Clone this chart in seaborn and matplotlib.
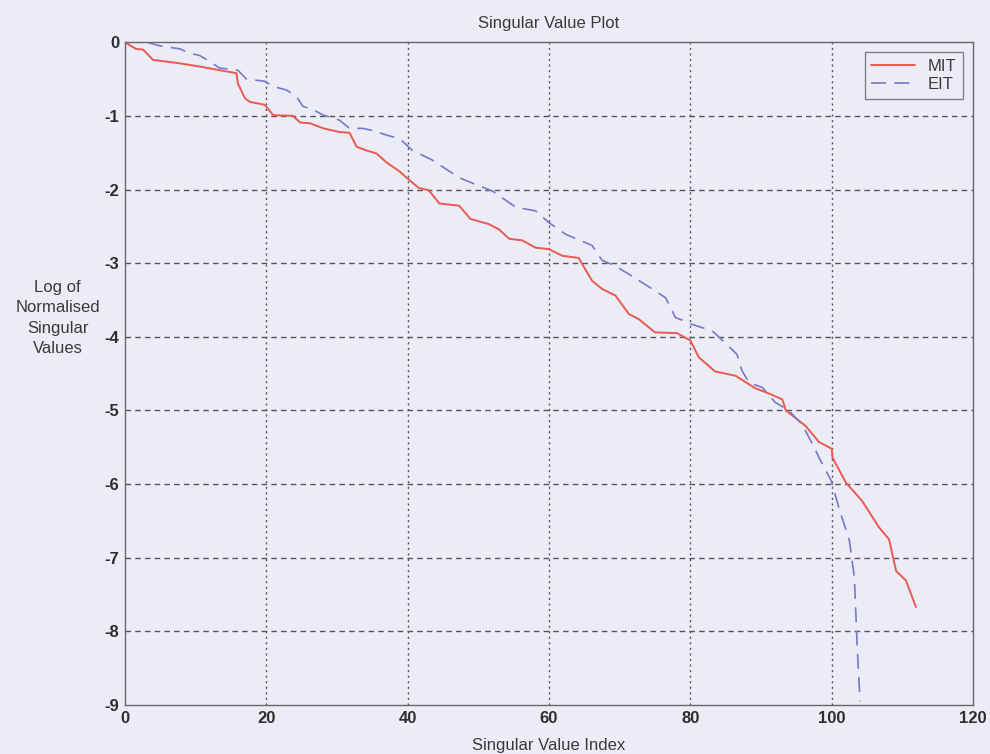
import pandas as pd
import seaborn as sns
import matplotlib
matplotlib.use("Agg")
import matplotlib.pyplot as plt

# values
mit_index = [0, 1.6, 2.6, 4.0, 7.3, 10.6, 13.4, 15.8, 16.0, 17.0, 17.7, 19.8, 21.0, 23.8, 24.8,
             26.2, 28.1, 30.4, 31.8, 32.8, 34.2, 35.6, 37.0, 38.8, 40.0, 41.6, 43.0, 44.5, 47.3, 48.9,
             51.5, 52.9, 54.4, 56.2, 58.1, 60.0, 61.9, 64.2, 66.1, 67.5, 69.4, 71.3, 72.7, 75.0, 78.1,
             80.0, 81.2, 83.5, 86.4, 89.2, 91.1, 93.0, 93.5, 96.3, 98.2, 100.0, 100.1, 102.0, 104.3,
             106.7, 108.1, 109.1, 110.5, 111.9]
mit_values = [0, -0.09, -0.10, -0.24, -0.28, -0.33, -0.38, -0.42, -0.56, -0.76, -0.81, -0.85, -0.99,
              -1.0, -1.09, -1.10, -1.17, -1.22, -1.23, -1.42, -1.47, -1.51, -1.63, -1.75, -1.85, -1.98,
              -2.01, -2.19, -2.22, -2.40, -2.47, -2.54, -2.67, -2.69, -2.79, -2.81, -2.90, -2.93, -3.24,
              -3.35, -3.44, -3.69, -3.76, -3.94, -3.95, -4.05, -4.28, -4.47, -4.53, -4.70, -4.77, -4.85,
              -5.0, -5.21, -5.43, -5.52, -5.64, -5.98, -6.23, -6.59, -6.75, -7.18, -7.31, -7.67]

eit_index = [0, 3.1, 5.0, 7.8, 9.2, 10.6, 12.0, 13.4, 16.0, 17.2, 19.8, 21.0, 22.9, 24.3, 25.2,
             26.7, 28.1, 30.4, 31.8, 33.7, 35.1, 37.0, 38.9, 40.7, 43.5, 47.3, 50.1, 52.0, 55.3, 58.1,
             60.0, 62.4, 66.1, 67.5, 69.4, 71.3, 74.6, 76.5, 77.9, 79.3, 80.2, 83.1, 84.9, 86.6, 87.3,
             88.3, 90.2, 92.0, 93.9, 95.8, 97.3, 98.4, 99.9, 101.0, 102.5, 103.2, 103.6, 104.0]
eit_values = [0, 0, -0.05, -0.09, -0.15, -0.18, -0.26, -0.35, -0.38, -0.50, -0.53, -0.60, -0.65,
              -0.74, -0.87, -0.92, -0.99, -1.06, -1.17, -1.17, -1.20, -1.26, -1.31, -1.47, -1.60,
              -1.84, -1.95, -2.02, -2.24, -2.29, -2.45, -2.61, -2.76, -2.96, -3.04, -3.15, -3.35,
              -3.47, -3.74, -3.79, -3.83, -3.92, -4.08, -4.24, -4.46, -4.62, -4.69, -4.89, -5.0,
              -5.19, -5.46, -5.68, -5.95, -6.32, -6.77, -7.27, -8.22, -8.95]

x_ticks = [0, 20, 40, 60, 80, 100, 120]
y_ticks = [0, -1, -2, -3, -4, -5, -6, -7, -8, -9]

bg = "#ececf6"
ink = "#3a3a3a"

sns.set_style("white")
plt.rcParams['font.family'] = ['Liberation Sans', 'DejaVu Sans']
plt.rcParams['axes.unicode_minus'] = False

fig = plt.figure(figsize=(9.9, 7.54), dpi=100, facecolor=bg)
ax = fig.add_axes([0.126, 0.065, 0.857, 0.879])
ax.set_facecolor(bg)

sns.lineplot(x=mit_index, y=mit_values, ax=ax, color="#ea5a50", lw=1.4, label="MIT",
             estimator=None, sort=False)
sns.lineplot(x=eit_index, y=eit_values, ax=ax, color="#7878cc", lw=1.2, label="EIT",
             estimator=None, sort=False, dashes=False)
ax.lines[1].set_dashes([9, 5])

ax.set_xlim(0, 120)
ax.set_ylim(-9, 0)
ax.set_xticks(x_ticks)
ax.set_yticks(y_ticks)
ax.tick_params(direction="in", length=0, colors=ink, labelsize=12, pad=4)
for lab in ax.get_xticklabels() + ax.get_yticklabels():
    lab.set_fontweight("bold")
    lab.set_color("#2e2e2e")

for v in x_ticks[1:-1]:
    ax.axvline(v, color="#555555", lw=1.0, ls=(0, (1.5, 2.5)), zorder=0)
for v in y_ticks[1:-1]:
    ax.axhline(v, color="#555555", lw=1.0, ls=(0, (4, 3)), zorder=0)

for s in ax.spines.values():
    s.set_color("#666666")
    s.set_linewidth(1.0)

ax.set_title("Singular Value Plot", fontsize=12, color=ink, pad=10)
ax.set_xlabel("Singular Value Index", fontsize=12, color=ink, labelpad=9)
ax.set_ylabel("Log of\nNormalised\nSingular\nValues", fontsize=12, color=ink, rotation=0,
              ha="center", va="center", labelpad=0, linespacing=1.45)
ax.yaxis.set_label_coords(-0.079, 0.584)

leg = ax.legend(loc="upper right", fontsize=12, frameon=True, fancybox=False,
                borderaxespad=0.6, handlelength=2.6, labelspacing=0.2)
leg.get_frame().set_edgecolor("#666666")
leg.get_frame().set_facecolor(bg)
leg.get_frame().set_linewidth(1.0)
for t in leg.get_texts():
    t.set_color(ink)

plt.savefig("out.png", dpi=100, facecolor=bg)
